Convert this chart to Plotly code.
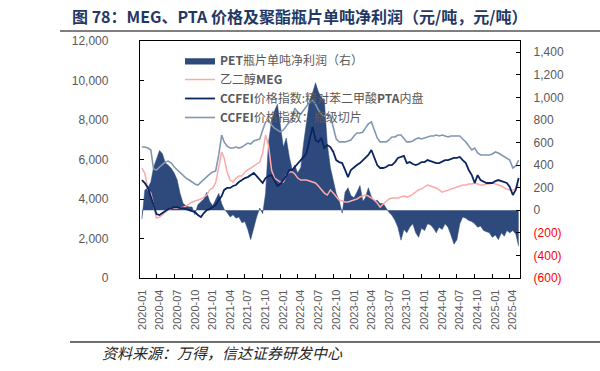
import plotly.graph_objects as go

# ---- x categories: semi-monthly observation dates ----
dates = []
for yy in range(2020, 2026):
    for mm in range(1, 13):
        for dd in (1, 16):
            ds = f"{yy}-{mm:02d}-{dd:02d}"
            if ds <= "2025-05-01":
                dates.append(ds)

# ---- series ----
chip = [
    6630, 6630, 6580, 6480, 5520, 5470, 5620, 5770, 5870, 5920, 5820, 5620,
    5470, 5320, 5210, 5060, 4960, 4860, 4760, 4710, 4860, 5010, 5160, 5260,
    5370, 5420, 6230, 7240, 6890, 6680, 6580, 6580, 6630, 6580, 6630, 6730,
    6830, 6780, 6940, 6990, 7040, 7490, 7900, 8000, 7750, 7590, 7490, 7400,
    7500, 7700, 7900, 8100, 8600, 8400, 8300, 8500, 8700, 8900, 9000, 8800,
    8500, 8300, 8200, 8300, 8200, 7600, 7050, 6890, 6890, 6890, 6940, 6990,
    7190, 7340, 7340, 7390, 7590, 7800, 7900, 7490, 7090, 6890, 6890, 6890,
    6990, 7140, 7140, 7240, 7240, 7090, 6890, 6890, 6940, 7040, 7090, 7040,
    7090, 7140, 7190, 7190, 7240, 7190, 7240, 7190, 7140, 7190, 7190, 7190,
    7190, 7040, 6890, 6680, 6480, 6580, 6330, 6230, 6230, 6230, 6230, 6280,
    6380, 6330, 6230, 6180, 6080, 5970, 5570, 5670, 5970,
]
pta = [
    4960, 4810, 4560, 4150, 3700, 3240, 3190, 3290, 3390, 3490, 3540, 3590,
    3590, 3540, 3540, 3490, 3440, 3390, 3340, 3190, 3090, 3290, 3440, 3490,
    3590, 3700, 3950, 4150, 4460, 4560, 4560, 4660, 4710, 4860, 4960, 5060,
    5110, 5210, 5320, 5160, 4960, 4810, 5060, 5160, 5210, 4960, 4660, 4760,
    4960, 5160, 5470, 5470, 5620, 5820, 5970, 6130, 6330, 6990, 7650, 6990,
    6890, 7090, 6580, 6730, 6630, 6380, 5970, 5870, 5820, 5470, 5110, 5470,
    5620, 5720, 5820, 5970, 6080, 6230, 6480, 6080, 5720, 5570, 5570, 5620,
    5720, 5720, 5870, 6080, 6130, 6180, 5820, 5870, 5770, 5720, 5770, 5870,
    5870, 5970, 5920, 5870, 5820, 5820, 5920, 5970, 5970, 6020, 6080, 6080,
    6130, 5970, 5820, 5470, 5210, 4810, 5210, 4960, 4860, 4810, 4810, 4810,
    4910, 4960, 4910, 4860, 4810, 4610, 4200, 4460, 5060,
]
meg = [
    5570, 5300, 4460, 4300, 3700, 3040, 3090, 3190, 3340, 3440, 3540, 3540,
    3540, 3540, 3590, 3640, 3750, 3850, 3900, 3950, 4000, 4100, 4200, 4460,
    4560, 4810, 5570, 6380, 6080, 5370, 4960, 4860, 5060, 5160, 5160, 5370,
    5470, 5570, 5670, 5770, 5870, 6330, 7240, 6730, 5470, 5060, 4960, 4860,
    4860, 5210, 5370, 5370, 5270, 5060, 4960, 4960, 4960, 4910, 4860, 4810,
    4660, 4460, 4300, 4200, 4460, 4300, 4100, 3950, 3900, 3850, 3850, 3900,
    3950, 4000, 4100, 4150, 4200, 4150, 4050, 3950, 3800, 3590, 3750, 3900,
    4000, 4050, 4050, 4050, 4100, 4150, 4100, 4150, 4250, 4350, 4460, 4510,
    4610, 4710, 4660, 4610, 4560, 4460, 4350, 4400, 4460, 4510, 4560, 4610,
    4660, 4710, 4710, 4760, 4760, 4810, 4760, 4710, 4710, 4760, 4760, 4810,
    4760, 4710, 4660, 4560, 4510, 4460, 4460, 4510, 4710,
]
profit = [
    -80, 180, 200, 250, 380, 460, 530, 500, 420, 400, 370, 330,
    270, 150, 60, 40, 30, 30, -40, 50, 80, 100, 160, 80,
    40, 100, 150, 60, 10, -20, -60, -40, -70, -60, -110, -100,
    -170, -260, -150, -60, 20, -30, 150, 600, 790, 880, 940, 730,
    560, 640, 470, 360, 400, 330, 380, 600, 800, 970, 1040, 1130,
    1050, 1000, 970, 590, 380, 260, 150, 90, -25, 160, 200, 130,
    110, 160, 220, 80, 110, 200, 120, 80, 90, 60, 60, 20,
    -20, -44, -90, -150, -265, -170, -200, -150, -120, -200, -240, -160,
    -180, -120, -130, -160, -200, -150, -170, -120, -150, -220, -300, -260,
    -120, -60, -70, -90, -100, -120, -150, -140, -180, -190, -200, -240,
    -220, -260, -200, -230, -180, -200, -180, -210, -320,
]

right_ticks = [-600, -400, -200, 0, 200, 400, 600, 800, 1000, 1200, 1400]
right_labels = [
    "<span style='color:#FF0000'>(600)</span>",
    "<span style='color:#FF0000'>(400)</span>",
    "<span style='color:#FF0000'>(200)</span>",
    "0", "200", "400", "600", "800", "1,000", "1,200", "1,400",
]

names = [
    "<b>PET</b>瓶片单吨净利润（右）",
    "乙二醇<b>MEG</b>",
    "<b>CCFEI</b>价格指数:精对苯二甲酸<b>PTA</b>内盘",
    "<b>CCFEI</b>价格指数：瓶级切片",
]

AREA = "#2E4A7D"
C_MEG = "#FFA8A8"
C_PTA = "#0B2561"
C_CHIP = "#8497B0"
GRAY = "#595959"
FONT = "Noto Sans CJK SC"

fig = go.Figure()
fig.add_trace(go.Scatter(x=dates, y=profit, name=names[0], mode="lines",
                         fill="tozeroy", fillcolor=AREA,
                         line=dict(color=AREA, width=0.5), yaxis="y"))
fig.add_trace(go.Scatter(x=dates, y=meg, name=names[1], mode="lines",
                         line=dict(color=C_MEG, width=1.5), yaxis="y2"))
fig.add_trace(go.Scatter(x=dates, y=pta, name=names[2], mode="lines",
                         line=dict(color=C_PTA, width=1.8), yaxis="y2"))
fig.add_trace(go.Scatter(x=dates, y=chip, name=names[3], mode="lines",
                         line=dict(color=C_CHIP, width=1.6), yaxis="y2"))

W, H = 600, 371
L, R, T, B = 140, 520, 41, 278


def px(x):
    return (x - L) / (R - L)


def py(y):
    return (B - y) / (B - T)


fig.update_layout(
    width=W, height=H,
    margin=dict(l=L, r=W - R, t=T, b=H - B, pad=0),
    paper_bgcolor="white", plot_bgcolor="white",
    font=dict(family="Liberation Sans, Arial", size=12, color=GRAY),
    showlegend=True,
    legend=dict(x=px(180), y=py(46), xanchor="left", yanchor="top",
                bgcolor="rgba(0,0,0,0)", font=dict(family=FONT, size=12, color=GRAY),
                tracegroupgap=0, itemwidth=30),
    title=dict(text="图 78：MEG、PTA 价格及聚酯瓶片单吨净利润（元/吨，元/吨）",
               xref="container", yref="container", x=72 / W, y=1 - 17 / H,
               xanchor="left", yanchor="middle",
               font=dict(family=FONT, size=16, color="#1F3864", weight="bold")),
    xaxis=dict(type="date", range=["2019-12-22", "2025-05-08"],
               tickmode="linear", tick0="2020-01-01", dtick="M3",
               tickformat="%Y-%m", tickangle=-90, ticks="",
               ticklabelstandoff=6,
               tickfont=dict(family="Liberation Sans, Arial", size=11, color=GRAY),
               minor=dict(ticks="inside", tick0="2020-03-16", dtick="M3",
                          ticklen=4, tickcolor="black", tickwidth=1, showgrid=False),
               showline=True, linecolor="black", linewidth=1.3, mirror=True,
               showgrid=False, zeroline=False),
    yaxis=dict(side="right", range=[-600, 1500], tickmode="array",
               tickvals=right_ticks, ticktext=right_labels,
               ticks="inside", ticklen=4, tickcolor="black",
               ticklabelstandoff=10,
               tickfont=dict(family="Liberation Sans, Arial", size=12, color=GRAY),
               showline=True, linecolor="black", linewidth=1.3,
               showgrid=False, zeroline=False),
    yaxis2=dict(side="left", overlaying="y", range=[0, 12000], dtick=2000,
                tickformat=",", ticks="inside", ticklen=4, tickcolor="black",
                ticklabelstandoff=28,
                tickfont=dict(family="Liberation Sans, Arial", size=12, color=GRAY),
                showline=True, linecolor="black", linewidth=1.3,
                showgrid=False, zeroline=False),
    shapes=[
        dict(type="line", xref="paper", yref="paper", x0=px(60), x1=px(600),
             y0=py(31), y1=py(31), line=dict(color="#7F7F7F", width=2)),
        dict(type="line", xref="paper", yref="paper", x0=px(70), x1=px(600),
             y0=py(342), y1=py(342), line=dict(color="#404040", width=1.5)),
    ],
    annotations=[
        dict(text="<i>资料来源：万得，信达证券研发中心</i>", xref="paper", yref="paper",
             x=px(100), y=py(352), xanchor="left", yanchor="middle", showarrow=False,
             font=dict(family=FONT, size=15, color="#262626")),
    ],
)

fig.write_html("out.html",
               config={"displayModeBar": False},
               post_script="document.body.style.margin='0px';document.body.style.padding='0px';")
